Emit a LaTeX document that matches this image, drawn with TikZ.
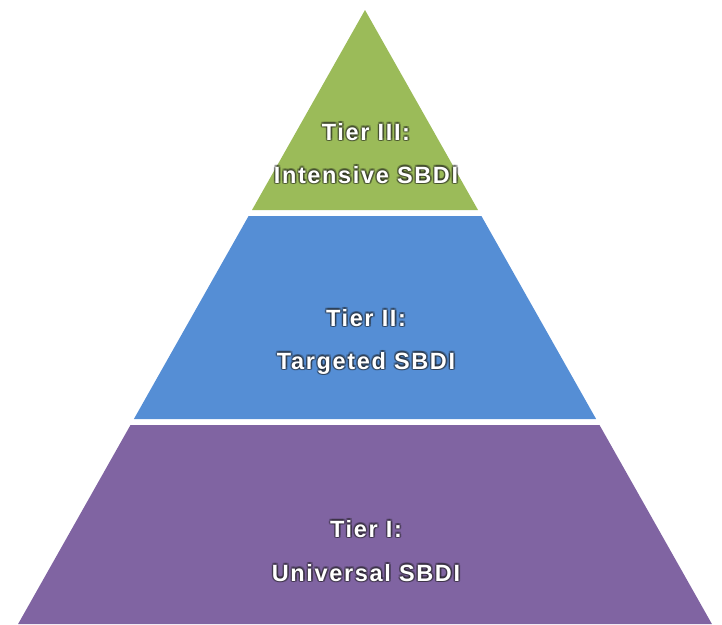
\documentclass[tikz,border=0pt]{standalone}
\usepackage{fontspec}
\setmainfont{Liberation Sans}
\newfontfamily\tierfont[LetterSpace=7]{Liberation Sans Bold}
\definecolor{tgreen}{HTML}{9BBB59}
\definecolor{tblue}{HTML}{558ED5}
\definecolor{tpurple}{HTML}{8064A2}
\definecolor{glowc}{HTML}{1A1A1A}
\newcommand{\glowlabel}[3]{%
  \foreach \dx/\dy in {-1.5/0,1.8/0,0/-1.5,0/1.8,-1.1/-1.1,1.4/1.4,-1.1/1.4,1.4/-1.1}{
    \node[tiertext, text=glowc, opacity=0.3] at ([xshift=\dx pt,yshift=-\dy pt]#2) {#3};
  }
  \node[tiertext, text=white] (#1) at (#2) {#3};
}
\begin{document}
\begin{tikzpicture}[x=1pt,y=-1pt,
  tiertext/.style={anchor=base, inner sep=0pt, font=\tierfont\fontsize{23.5}{28}\selectfont}]
\useasboundingbox (0,0) rectangle (722,624);
\fill[tgreen] (365,10) -- (478,210) -- (252,210) -- cycle;
\fill[tblue] (248.6,216) -- (481.4,216) -- (596.1,419) -- (133.9,419) -- cycle;
\fill[tpurple] (130.5,425) -- (599.5,425) -- (711.9,624) -- (18.1,624) -- cycle;
\coordinate (p3a) at (366,140);
\coordinate (p3b) at (366,183);
\coordinate (p2a) at (366,326);
\coordinate (p2b) at (366,369);
\coordinate (p1a) at (366,537);
\coordinate (p1b) at (366,581);
\glowlabel{t3a}{p3a}{Tier III:}
\glowlabel{t3b}{p3b}{Intensive SBDI}
\glowlabel{t2a}{p2a}{Tier II:}
\glowlabel{t2b}{p2b}{Targeted SBDI}
\glowlabel{t1a}{p1a}{Tier I:}
\glowlabel{t1b}{p1b}{Universal SBDI}
\end{tikzpicture}
\end{document}
